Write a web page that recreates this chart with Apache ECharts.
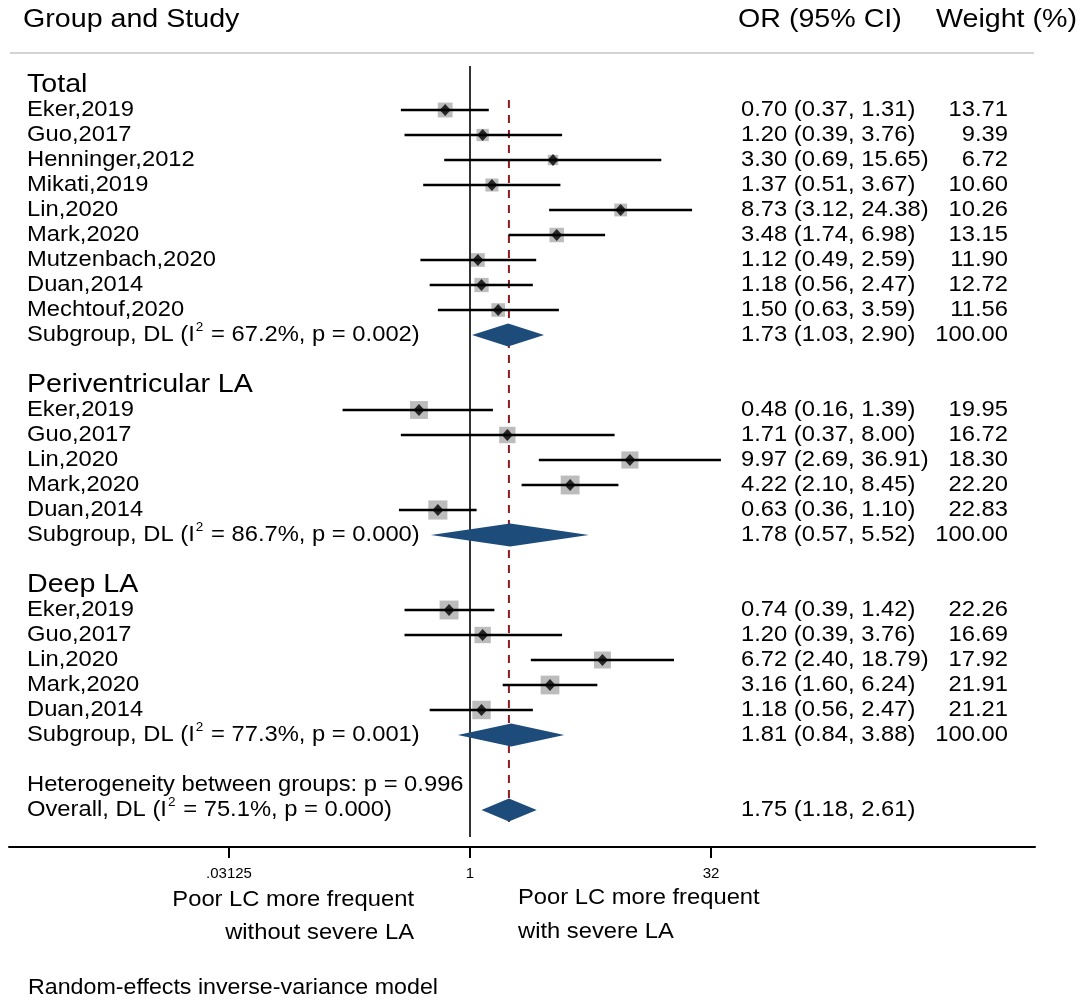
<!DOCTYPE html>
<html>
<head>
<meta charset="utf-8">
<script src="https://cdn.jsdelivr.net/npm/echarts@6/dist/echarts.min.js"></script>
<style>
  html, body { margin: 0; padding: 0; background: #fff; }
  #chart { width: 1084px; height: 1003px; }
</style>
</head>
<body>
<div id="chart"></div>
<script>
const FONT = '"Liberation Sans", Arial, sans-serif';
const SX = 1.08;            // the original text is slightly wide

// table rows (0 = first group header)
const groupNames = ['Total', 'Periventricular LA', 'Deep LA'];
const groupRows = [0, 12, 20];

const studyNames = [
  'Eker,2019', 'Guo,2017', 'Henninger,2012', 'Mikati,2019', 'Lin,2020', 'Mark,2020', 'Mutzenbach,2020', 'Duan,2014', 'Mechtouf,2020',
  'Eker,2019', 'Guo,2017', 'Lin,2020', 'Mark,2020', 'Duan,2014',
  'Eker,2019', 'Guo,2017', 'Lin,2020', 'Mark,2020', 'Duan,2014'
];
const studyRows = [1, 2, 3, 4, 5, 6, 7, 8, 9, 13, 14, 15, 16, 17, 21, 22, 23, 24, 25];
const studyOR = [0.70, 1.20, 3.30, 1.37, 8.73, 3.48, 1.12, 1.18, 1.50, 0.48, 1.71, 9.97, 4.22, 0.63, 0.74, 1.20, 6.72, 3.16, 1.18];
const studyLo = [0.37, 0.39, 0.69, 0.51, 3.12, 1.74, 0.49, 0.56, 0.63, 0.16, 0.37, 2.69, 2.10, 0.36, 0.39, 0.39, 2.40, 1.60, 0.56];
const studyHi = [1.31, 3.76, 15.65, 3.67, 24.38, 6.98, 2.59, 2.47, 3.59, 1.39, 8.00, 36.91, 8.45, 1.10, 1.42, 3.76, 18.79, 6.24, 2.47];
const studyWeight = [13.71, 9.39, 6.72, 10.60, 10.26, 13.15, 11.90, 12.72, 11.56, 19.95, 16.72, 18.30, 22.20, 22.83, 22.26, 16.69, 17.92, 21.91, 21.21];

const summaryPrefix = ['Subgroup', 'Subgroup', 'Subgroup', 'Overall'];
const summaryI2 = ['67.2', '86.7', '77.3', '75.1'];
const summaryP = ['0.002', '0.000', '0.001', '0.000'];
const summaryRows = [10, 18, 26, 29];
const summaryOR = [1.73, 1.78, 1.81, 1.75];
const summaryLo = [1.03, 0.57, 0.84, 1.18];
const summaryHi = [2.90, 5.52, 3.88, 2.61];
const summaryWeight = [100, 100, 100, null];

const heteroText = 'Heterogeneity between groups: p = 0.996';
const heteroRow = 28;

const tickValues = [0.03125, 1, 32];
const tickLabels = ['.03125', '1', '32'];

const lg = Math.log2;
const overall = summaryOR[3];

const ctx = document.createElement('canvas').getContext('2d');
function textWidth(str, size) {
  ctx.font = size + 'px ' + FONT;
  return ctx.measureText(str).width;
}
function txt(str, size, x, y, align) {
  return {
    type: 'text', x: x, y: y,
    style: { text: str, fill: '#000', fontSize: size, fontFamily: FONT, align: align || 'left', verticalAlign: 'middle' }
  };
}

// text items for the table part
const textItems = [];
groupNames.forEach((g, i) => textItems.push({ row: groupRows[i], kind: 'group', text: g }));
studyNames.forEach((s, i) => {
  textItems.push({ row: studyRows[i], kind: 'name', text: s });
  textItems.push({ row: studyRows[i], kind: 'or', text: studyOR[i].toFixed(2) + ' (' + studyLo[i].toFixed(2) + ', ' + studyHi[i].toFixed(2) + ')' });
  textItems.push({ row: studyRows[i], kind: 'w', text: studyWeight[i].toFixed(2) });
});
summaryRows.forEach((r, i) => {
  textItems.push({ row: r, kind: 'sum', parts: [summaryPrefix[i] + ', DL (I', '2', ' = ' + summaryI2[i] + '%, p = ' + summaryP[i] + ')'] });
  textItems.push({ row: r, kind: 'or', text: summaryOR[i].toFixed(2) + ' (' + summaryLo[i].toFixed(2) + ', ' + summaryHi[i].toFixed(2) + ')' });
  if (summaryWeight[i] != null) textItems.push({ row: r, kind: 'w', text: summaryWeight[i].toFixed(2) });
});
textItems.push({ row: heteroRow, kind: 'name', text: heteroText });

const chart = echarts.init(document.getElementById('chart'));

chart.setOption({
  animation: false,
  backgroundColor: '#fff',
  grid: { left: 9, right: 49, top: 60, bottom: 156 },
  xAxis: {
    type: 'value',
    position: 'bottom',
    min: (9 - 470) / 48.2,
    max: (1035 - 470) / 48.2,
    splitLine: { show: false },
    axisLine: { onZero: false, lineStyle: { color: '#000', width: 2 } },
    axisTick: { customValues: tickValues.map(lg), length: 11, lineStyle: { color: '#000', width: 2 } },
    axisLabel: {
      customValues: tickValues.map(lg),
      margin: 19,
      fontSize: 15,
      fontFamily: FONT,
      color: '#000',
      formatter: v => tickLabels[tickValues.map(lg).indexOf(v)]
    }
  },
  yAxis: { type: 'value', inverse: true, min: -1, max: 30.48, show: false },
  graphic: [
    { type: 'line', shape: { x1: 10, y1: 53, x2: 1034, y2: 53 }, style: { stroke: '#c4c4c4', lineWidth: 1.5 } },
    Object.assign(txt('Group and Study', 26.5, 23, 20), { scaleX: SX }),
    Object.assign(txt('OR (95% CI)', 26.5, 738, 20), { scaleX: SX }),
    Object.assign(txt('Weight (%)', 26.5, 936, 20), { scaleX: SX }),
    Object.assign(txt('Poor LC more frequent', 22, 414, 900, 'right'), { scaleX: SX }),
    Object.assign(txt('without severe LA', 22, 414, 933, 'right'), { scaleX: SX }),
    Object.assign(txt('Poor LC more frequent', 22, 518, 898), { scaleX: SX }),
    Object.assign(txt('with severe LA', 22, 518, 932), { scaleX: SX }),
    Object.assign(txt('Random-effects inverse-variance model', 21.5, 28, 988), { scaleX: SX })
  ],
  series: [
    {
      type: 'line', silent: true, symbol: 'none', z: 1,
      data: [[0, -0.76], [0, 30.08]],
      lineStyle: { color: '#000', width: 1.6 }
    },
    {
      type: 'line', silent: true, symbol: 'none', z: 1,
      data: [[lg(overall), 0.6], [lg(overall), 29.48]],
      lineStyle: { color: '#8e1b1f', width: 2, type: [8, 7] }
    },
    {
      type: 'scatter', silent: true, z: 2,
      symbol: 'rect',
      symbolSize: v => 4 * Math.sqrt(v[2]),
      itemStyle: { color: '#ababab' },
      data: studyOR.map((o, i) => [lg(o), studyRows[i], studyWeight[i]])
    },
    {
      type: 'custom', silent: true, z: 3,
      data: studyOR.map((o, i) => [lg(studyLo[i]), lg(studyHi[i]), studyRows[i]]),
      renderItem: (params, api) => {
        const a = api.coord([api.value(0), api.value(2)]);
        const b = api.coord([api.value(1), api.value(2)]);
        return { type: 'line', shape: { x1: a[0], y1: a[1], x2: b[0], y2: b[1] }, style: { stroke: '#000', lineWidth: 2.6 } };
      }
    },
    {
      type: 'scatter', silent: true, z: 4,
      symbol: 'diamond', symbolSize: [11, 12],
      itemStyle: { color: '#000' },
      data: studyOR.map((o, i) => [lg(o), studyRows[i]])
    },
    {
      type: 'custom', silent: true, z: 4,
      data: summaryOR.map((o, i) => [lg(summaryLo[i]), lg(o), lg(summaryHi[i]), summaryRows[i]]),
      renderItem: (params, api) => {
        const l = api.coord([api.value(0), api.value(3)]);
        const c = api.coord([api.value(1), api.value(3)]);
        const r = api.coord([api.value(2), api.value(3)]);
        const h = 11.5;
        return {
          type: 'polygon',
          shape: { points: [[l[0], c[1]], [c[0], c[1] - h], [r[0], c[1]], [c[0], c[1] + h]] },
          style: { fill: '#1d4c7a' }
        };
      }
    },
    {
      type: 'custom', silent: true, z: 5,
      data: textItems.map(t => [0, t.row]),
      renderItem: (params, api) => {
        const it = textItems[params.dataIndex];
        const y = api.coord([0, api.value(1)])[1];
        if (it.kind === 'group') return Object.assign(txt(it.text, 26.5, 27, y), { scaleX: SX });
        if (it.kind === 'name') return Object.assign(txt(it.text, 22, 27, y), { scaleX: SX });
        if (it.kind === 'or') return Object.assign(txt(it.text, 22, 741, y), { scaleX: SX });
        if (it.kind === 'w') return Object.assign(txt(it.text, 22, 1008, y, 'right'), { scaleX: SX });
        const w1 = textWidth(it.parts[0], 22);
        const w2 = textWidth(it.parts[1], 12.5);
        return {
          type: 'group', x: 27, y: y, scaleX: SX,
          children: [
            txt(it.parts[0], 22, 0, 0),
            txt(it.parts[1], 12.5, w1 + 1, -7.5),
            txt(it.parts[2], 22, w1 + w2 + 2, 0)
          ]
        };
      }
    }
  ]
});
</script>
</body>
</html>
